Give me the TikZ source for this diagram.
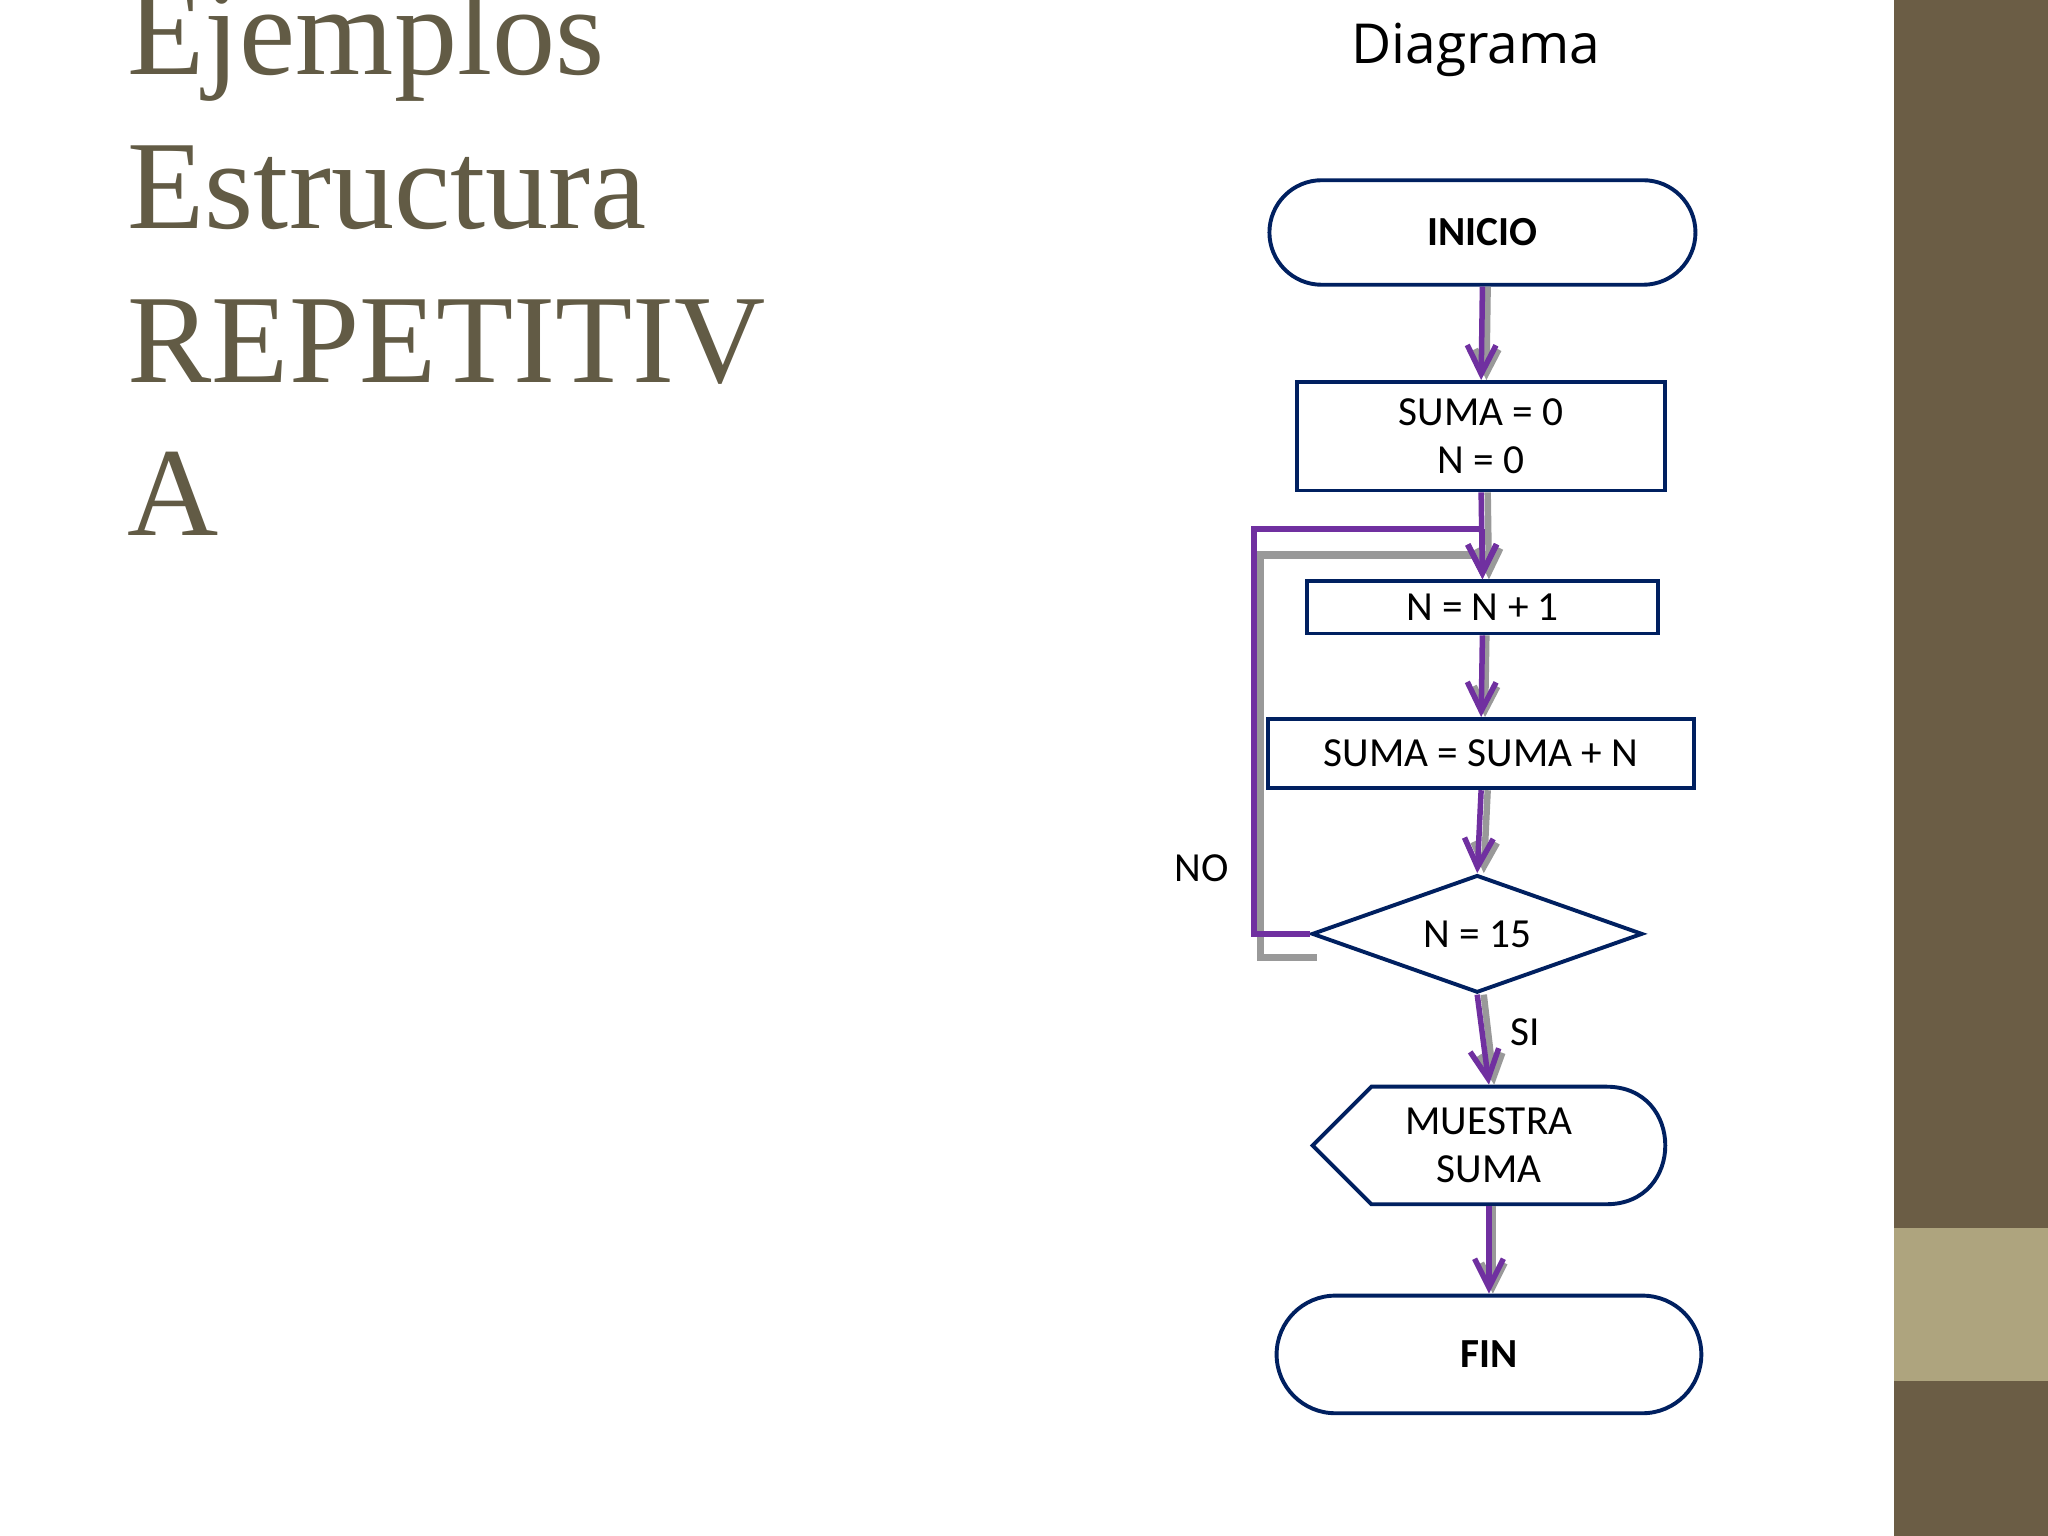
\documentclass[tikz,border=0pt]{standalone}
\usepackage{fontspec}
\setmainfont{Carlito}
\newfontfamily\titlefont{Liberation Serif}
\newfontfamily\diagfont{Open Sans}
\usetikzlibrary{shapes.misc,shapes.geometric,arrows.meta}
\definecolor{navy}{HTML}{002060}
\definecolor{purp}{HTML}{7030A0}
\definecolor{brn}{HTML}{6B5D45}
\definecolor{lbrn}{HTML}{AEA47E}
\definecolor{ttl}{HTML}{625B45}
\begin{document}
\begin{tikzpicture}[x=0.01cm,y=-0.01cm,
  box/.style={draw=navy,line width=0.85pt,fill=white,inner sep=0pt,font=\fontsize{9}{10.5}\selectfont,align=center},
  term/.style={box,rounded rectangle,minimum width=3.26cm,minimum height=0.8cm,font=\fontsize{9}{11}\selectfont\bfseries},
  flow/.style={purp,line width=1.2pt,-{Straight Barb[length=0.22cm,width=0.22cm,line width=1.2pt]}},
  shadow/.style={gray!80,line width=1.4pt,-{Straight Barb[length=0.18cm,width=0.18cm,line width=1.4pt]}},
  ttlst/.style={anchor=base west,text=ttl,font=\titlefont\fontsize{27.5}{33.5}\selectfont,inner sep=0pt},
  lbl/.style={font=\fontsize{9}{11}\selectfont}]
\useasboundingbox (0,0) rectangle (1568,1176);
\fill[white] (0,0) rectangle (1568,1176);
\fill[brn] (1450,0) rectangle (1568,1176);
\fill[lbrn] (1450,940) rectangle (1568,1057);
\node[ttlst] (t1) at (97,57) {Ejemplos};
\node[ttlst] (t2) at (97,175) {Estructura};
\node[ttlst] (t3) at (97,293) {REPETITIV};
\node[ttlst] (t4) at (97,410) {A};
\node[font=\diagfont\fontsize{12}{14}\selectfont] (dg) at (1130,38) {Diagrama};
% nodes
\node[term] (ini) at (1135,178) {INICIO};
\node[box,minimum width=2.82cm,minimum height=0.83cm] (s0) at (1134,334) {SUMA = 0\\N = 0};
\node[box,minimum width=2.68cm,minimum height=0.40cm] (n1) at (1135,465) {N = N + 1};
\node[box,minimum width=3.26cm,minimum height=0.53cm] (sm) at (1134,577) {SUMA = SUMA + N};
\node[box,diamond,aspect=2.8,minimum width=2.53cm,minimum height=0.9cm] (dec) at (1131,715) {N = 15};
\node[box,draw=none,fill=none,minimum width=2.2cm,minimum height=0.9cm] (ms) at (1140,877) {MUESTRA\\SUMA};
\draw[navy,line width=0.85pt] (1005,877) -- (1050,832) -- (1230,832) .. controls (1290,832) and (1290,922) .. (1230,922) -- (1050,922) -- cycle;
\node[term,minimum width=3.25cm,minimum height=0.9cm] (fin) at (1140,1037) {FIN};
\coordinate (c1) at (960,715);
\coordinate (c2) at (960,405);
\coordinate (c3) at (1135,405);
\coordinate (g0) at (1008,733);
\coordinate (g1) at (965,733);
\coordinate (g2) at (965,425);
\coordinate (g3) at (1138,425);
% shadows
\draw[shadow] ([xshift=0.04cm]ini.south) -- ([xshift=0.04cm]s0.north);
\draw[shadow] ([xshift=0.05cm]s0.south) -- ([xshift=0.05cm]n1.north);
\draw[shadow] ([xshift=0.03cm]n1.south) -- ([xshift=0.03cm]sm.north);
\draw[shadow] ([xshift=0.05cm]sm.south) -- ([xshift=0.05cm]dec.north);
\draw[shadow] ([xshift=0.05cm]dec.south) -- ([xshift=0.04cm]ms.north);
\draw[shadow] ([xshift=0.03cm]ms.south) -- ([xshift=0.03cm]fin.north);
\draw[gray!80,line width=1.6pt] (g0) -- (g1) -- (g2) -- (g3);
% flows
\draw[flow] (dec.south) -- (ms.north);
\draw[flow] (ini.south) -- (s0.north);
\draw[flow] (s0.south) -- (n1.north);
\draw[flow] (n1.south) -- (sm.north);
\draw[flow] (sm.south) -- (dec.north);
\draw[flow] (ms.south) -- (fin.north);
\draw[purp,line width=1.2pt] (dec.west) -- (c1) -- (c2) -- (c3);
\draw[flow] (c3) -- (n1.north);
\node[lbl] (no) at (920,665) {NO};
\node[lbl] (si) at (1168,790) {SI};
\end{tikzpicture}
\end{document}
